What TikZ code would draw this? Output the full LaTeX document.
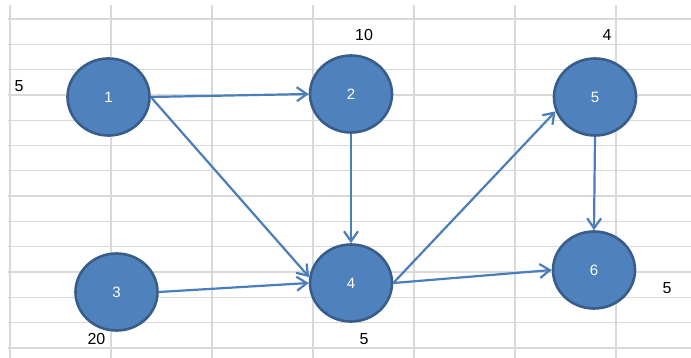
\documentclass[tikz,border=0pt]{standalone}
\usepackage{fontspec}
\setmainfont{Liberation Sans}
\usetikzlibrary{arrows.meta,shapes.geometric}
\definecolor{cellline}{HTML}{D9D9D9}
\definecolor{nodefill}{HTML}{4F81BD}
\definecolor{nodeedge}{HTML}{385D8A}
\definecolor{linkblue}{HTML}{4A7EBB}
\begin{document}
\begin{tikzpicture}[x=1pt, y=-1pt,
    event/.style={ellipse, draw=nodeedge, line width=2.6pt, fill=nodefill,
        minimum width=82pt, minimum height=77pt, inner sep=0pt,
        text=white, font=\fontsize{15}{15}\selectfont},
    weight/.style={font=\fontsize{16}{16}\selectfont, inner sep=0pt},
    link/.style={draw=linkblue, line width=2.2pt,
        -{Straight Barb[length=10pt, width=14pt]}}]
                \useasboundingbox (0,0) rectangle (691,358);
                \fill[white] (0,0) rectangle (691,358);

                \foreach \x in {10, 111, 212, 313, 414, 515, 616}
                    \draw[cellline, line width=1.3pt] (\x, 5) -- (\x, 358);
                \foreach \y in {19, 44.3, 69.6, 94.9, 120.2, 145.5, 170.8, 196.1, 221.4, 246.7, 272, 297.3, 322.6, 347.9}
                    \draw[cellline, line width=1.3pt] (8, \y) -- (691, \y);

                \node[event] (n1) at (108.5, 97) {1};
                \node[event] (n2) at (351, 94) {2};
                \node[event] (n3) at (116.5, 292) {3};
                \node[event] (n4) at (351, 283) {4};
                \node[event] (n5) at (595, 97) {5};
                \node[event] (n6) at (594, 270) {6};

                \draw[link] (n1.east) -- (n2.west);
                \draw[link] (n1.east) -- (n4.172);
                \draw[link] (n2.south) -- (n4.north);
                \draw[link] (n3.east) -- (n4.west);
                \draw[link] (n4.east) -- (n5.200);
                \draw[link] (n4.east) -- (n6.west);
                \draw[link] (n5.south) -- (n6.north);

                \node[weight] (w1) at (19, 86) {5};
                \node[weight] (w2) at (364, 35) {10};
                \node[weight] (w3) at (96.5, 339) {20};
                \node[weight] (w4) at (364, 339) {5};
                \node[weight] (w5) at (607, 35) {4};
                \node[weight] (w6) at (667, 288) {5};
            \end{tikzpicture}
\end{document}
